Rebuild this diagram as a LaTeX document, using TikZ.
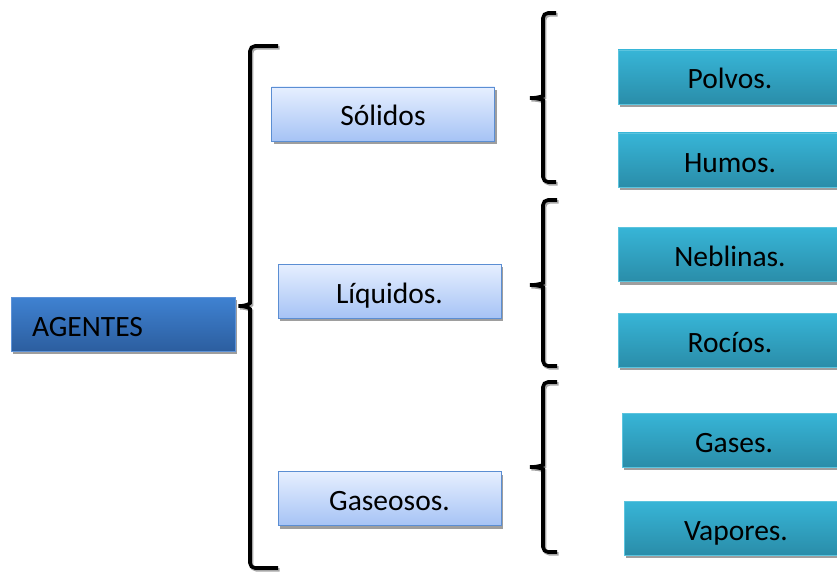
\documentclass[tikz,border=0pt]{standalone}
\usepackage{fontspec}
\setmainfont{Carlito}
\usetikzlibrary{shadows}
\definecolor{raizA}{HTML}{3F82D2}
\definecolor{raizB}{HTML}{2C5E9F}
\definecolor{raizL}{HTML}{5E93D8}
\definecolor{claroA}{HTML}{E6EFFF}
\definecolor{claroB}{HTML}{A6C3F5}
\definecolor{claroL}{HTML}{5B8ED3}
\definecolor{turqA}{HTML}{37B5D7}
\definecolor{turqB}{HTML}{2A8DA9}
\definecolor{turqL}{HTML}{5CC4DE}
\begin{document}
\begin{tikzpicture}[x=1pt,y=1pt]
        \tikzstyle{sombra}=[drop shadow={shadow xshift=2pt,shadow yshift=-3pt,fill=black!38,opacity=1}]
        \tikzstyle{letra}=[font=\fontsize{29.5}{32}\selectfont,text height=24pt,text depth=0pt]
        \tikzstyle{raiz}=[sombra,letra,draw=raizL,line width=0.8pt,top color=raizA,bottom color=raizB,text width=182pt,inner xsep=21pt,minimum height=54pt,align=left]
        \tikzstyle{estado}=[sombra,letra,draw=claroL,line width=0.8pt,top color=claroA,bottom color=claroB,minimum width=223pt,minimum height=54pt]
        \tikzstyle{tipo}=[sombra,letra,draw=turqL,line width=0.6pt,top color=turqA,bottom color=turqB,minimum width=224pt,minimum height=54pt]
        \tikzstyle{llave}=[draw=black,line width=3.6pt,rounded corners=5pt,preaction={draw=black!35,line width=3.6pt,transform canvas={shift={(1.5pt,-1.8pt)}}}]

        \clip (0,0) rectangle (837,-572);

        \node [raiz] (agentes) at (123,-324) {AGENTES};

        \node [estado] (solidos) at (383,-114) {Sólidos};
        \node [estado] (liquidos) at (389.5,-291) {Líquidos.};
        \node [estado] (gaseosos) at (389.5,-498.5) {Gaseosos.};

        \node [tipo] (polvos) at (730,-77) {Polvos.};
        \node [tipo] (humos) at (730,-160) {Humos.};
        \node [tipo] (neblinas) at (730,-254.5) {Neblinas.};
        \node [tipo] (rocios) at (730,-340) {Rocíos.};
        \node [tipo] (gases) at (734,-440) {Gases.};
        \node [tipo] (vapores) at (736,-528) {Vapores.};

        % llaves
        \coordinate (t0) at (agentes.east |- 0,-306);
        \coordinate (t1) at (527,-98);
        \coordinate (t2) at (527,-285);
        \coordinate (t3) at (527,-467);

        \path[llave] (278,-46) -- (250,-46) -- (250,-298) .. controls (250,-304) and (244,-306) .. (t0)
            .. controls (244,-306) and (250,-308) .. (250,-314) -- (250,-568) -- (278,-568);
        \path[llave] (556,-13) -- (543,-13) -- (543,-91) .. controls (543,-96) and (537,-98) .. (t1)
            .. controls (537,-98) and (543,-100) .. (543,-105) -- (543,-182) -- (556,-182);
        \path[llave] (557,-200) -- (543,-200) -- (543,-278) .. controls (543,-283) and (537,-285) .. (t2)
            .. controls (537,-285) and (543,-287) .. (543,-292) -- (543,-366) -- (557,-366);
        \path[llave] (557,-382) -- (543,-382) -- (543,-460) .. controls (543,-465) and (537,-467) .. (t3)
            .. controls (537,-467) and (543,-469) .. (543,-474) -- (543,-552) -- (557,-552);
\end{tikzpicture}
\end{document}
